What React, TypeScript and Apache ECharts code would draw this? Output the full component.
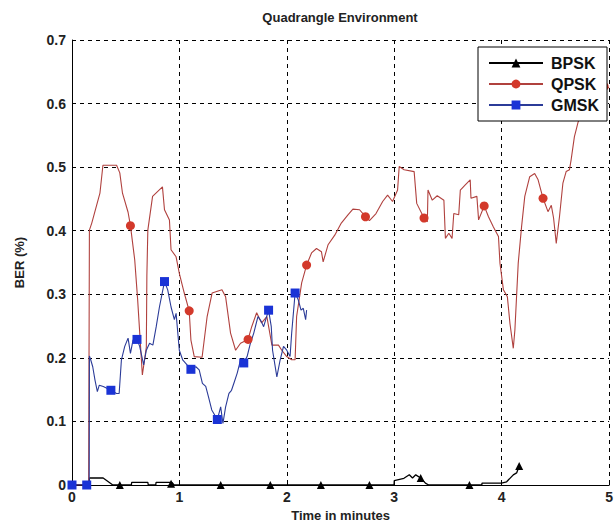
import React, { useEffect, useRef } from "react";
import * as echarts from "echarts";

const chartTitle = "Quadrangle Environment";
const xName = "Time in minutes";
const yName = "BER (%)";
const seriesNames = ["BPSK", "QPSK", "GMSK"];

const bpsk: [number, number][] = [
  [0, 0], [0.16, 0], [0.162, 0.011], [0.29, 0.011], [0.38, 0.0], [0.445, 0.0],
  [0.553, 0.0], [0.555, 0.004], [0.706, 0.004], [0.71, 0.0], [0.78, 0.0], [0.782, 0.004],
  [0.93, 0.004], [0.95, 0.0], [1.384, 0], [1.846, 0], [2.317, 0], [2.769, 0],
  [2.998, 0], [3.0, 0.007], [3.09, 0.0105], [3.14, 0.016], [3.17, 0.011], [3.2, 0.016],
  [3.246, 0.011], [3.29, 0.003], [3.32, 0], [3.70, 0], [3.815, 0], [3.817, 0.003],
  [3.998, 0.003], [4.046, 0.005], [4.108, 0.016], [4.139, 0.019], [4.163, 0.03],
];
const bpskMarks: [number, number][] = [
  [0.445, 0], [0.922, 0.002], [1.384, 0], [1.846, 0], [2.317, 0], [2.769, 0],
  [3.246, 0.011], [3.70, 0], [4.163, 0.03],
];

const qpsk: [number, number][] = [
  [0, 0], [0.155, 0], [0.162, 0.401], [0.184, 0.412], [0.26, 0.459], [0.288, 0.503],
  [0.415, 0.503], [0.445, 0.491], [0.47, 0.459], [0.522, 0.429], [0.544, 0.408],
  [0.584, 0.354], [0.611, 0.292], [0.655, 0.173], [0.692, 0.217], [0.697, 0.33],
  [0.706, 0.401], [0.75, 0.454], [0.842, 0.469], [0.861, 0.433], [0.907, 0.417],
  [0.922, 0.37], [0.969, 0.359], [0.999, 0.333], [1.045, 0.302], [1.091, 0.274],
  [1.107, 0.228], [1.138, 0.202], [1.211, 0.201], [1.258, 0.265], [1.304, 0.302],
  [1.396, 0.307], [1.43, 0.296], [1.476, 0.239], [1.523, 0.212], [1.569, 0.223],
  [1.639, 0.229], [1.673, 0.249], [1.719, 0.271], [1.765, 0.255], [1.814, 0.265],
  [1.861, 0.22], [1.922, 0.22], [1.953, 0.212], [1.999, 0.202], [2.045, 0.197],
  [2.077, 0.197], [2.091, 0.265], [2.138, 0.318], [2.184, 0.346], [2.23, 0.365],
  [2.276, 0.372], [2.322, 0.367], [2.338, 0.351], [2.384, 0.378], [2.446, 0.393],
  [2.507, 0.412], [2.569, 0.425], [2.615, 0.434], [2.677, 0.433], [2.732, 0.422],
  [2.769, 0.416], [2.83, 0.427], [2.892, 0.446], [2.938, 0.456], [2.984, 0.446],
  [3.031, 0.464], [3.046, 0.501], [3.092, 0.496], [3.185, 0.493], [3.209, 0.443],
  [3.277, 0.42], [3.308, 0.414], [3.314, 0.464], [3.354, 0.448], [3.4, 0.455],
  [3.462, 0.448], [3.476, 0.388], [3.508, 0.396], [3.538, 0.388], [3.554, 0.427],
  [3.6, 0.425], [3.615, 0.464], [3.661, 0.472], [3.707, 0.48], [3.714, 0.451],
  [3.769, 0.454], [3.785, 0.417], [3.837, 0.439], [3.877, 0.422], [3.923, 0.406],
  [3.97, 0.391], [3.984, 0.349], [4.016, 0.307], [4.053, 0.296], [4.077, 0.254],
  [4.108, 0.215], [4.123, 0.244], [4.154, 0.349], [4.185, 0.406], [4.215, 0.454],
  [4.261, 0.485], [4.307, 0.49], [4.339, 0.48], [4.385, 0.451], [4.431, 0.43],
  [4.462, 0.44], [4.483, 0.42], [4.508, 0.38], [4.538, 0.422], [4.57, 0.475],
  [4.6, 0.493], [4.631, 0.496], [4.646, 0.511], [4.677, 0.548], [4.692, 0.558],
  [4.71, 0.57], [4.75, 0.59], [4.82, 0.61], [4.9, 0.62], [4.954, 0.627], [5.0, 0.625],
];
const qpskMarks: [number, number][] = [
  [0.544, 0.408], [1.091, 0.274], [1.639, 0.229], [2.184, 0.346], [2.732, 0.422],
  [3.277, 0.42], [3.837, 0.439], [4.385, 0.451], [4.954, 0.627],
];

const gmsk: [number, number][] = [
  [0, 0], [0.137, 0], [0.16, 0], [0.162, 0.203], [0.174, 0.197], [0.193, 0.186],
  [0.214, 0.165], [0.236, 0.147], [0.254, 0.157], [0.291, 0.155], [0.362, 0.149],
  [0.414, 0.144], [0.439, 0.144], [0.46, 0.197], [0.491, 0.218], [0.522, 0.231],
  [0.544, 0.207], [0.568, 0.228], [0.605, 0.229], [0.63, 0.218], [0.667, 0.189],
  [0.692, 0.212], [0.722, 0.223], [0.753, 0.22], [0.784, 0.249], [0.814, 0.28],
  [0.861, 0.32], [0.891, 0.307], [0.922, 0.28], [0.953, 0.26], [0.969, 0.27],
  [0.999, 0.212], [1.03, 0.197], [1.061, 0.191], [1.107, 0.182], [1.153, 0.186],
  [1.184, 0.181], [1.214, 0.16], [1.245, 0.155], [1.27, 0.139], [1.301, 0.118],
  [1.353, 0.103], [1.384, 0.123], [1.405, 0.097], [1.43, 0.123], [1.461, 0.144],
  [1.485, 0.149], [1.507, 0.16], [1.538, 0.176], [1.569, 0.197], [1.599, 0.192],
  [1.63, 0.202], [1.661, 0.223], [1.692, 0.239], [1.731, 0.265], [1.763, 0.257],
  [1.784, 0.249], [1.83, 0.275], [1.855, 0.249], [1.867, 0.212], [1.907, 0.17],
  [1.938, 0.197], [1.969, 0.218], [1.999, 0.212], [2.03, 0.202], [2.045, 0.239],
  [2.077, 0.302], [2.107, 0.291], [2.132, 0.275], [2.153, 0.278], [2.175, 0.26],
  [2.184, 0.275],
];
const gmskMarks: [number, number][] = [
  [0, 0], [0.137, 0], [0.362, 0.149], [0.605, 0.229], [0.861, 0.32], [1.107, 0.182],
  [1.353, 0.103], [1.599, 0.192], [1.83, 0.275], [2.077, 0.302],
];

const FONT = "Arial, 'Liberation Sans', sans-serif";

export default function App() {
  const ref = useRef<HTMLDivElement>(null);
  useEffect(() => {
    if (!ref.current) return;
    const chart = echarts.init(ref.current, null, { renderer: "svg" });
    const lineColors = ["#000000", "#b0413e", "#2b3b98"];
    const markColors = ["#000000", "#d3392b", "#1a33d6"];
    const symbols = ["triangle", "circle", "rect"];
    const sizes = [8, 9, 9];
    const lines = [bpsk, qpsk, gmsk];
    const marks = [bpskMarks, qpskMarks, gmskMarks];
    const series: any[] = [];
    for (let i = 0; i < 3; i++) {
      series.push({
        name: seriesNames[i],
        type: "line",
        data: lines[i],
        showSymbol: false,
        symbol: symbols[i],
        symbolSize: sizes[i],
        itemStyle: { color: markColors[i] },
        lineStyle: { color: lineColors[i], width: i === 0 ? 1.3 : 1.1 },
        z: 2 + i,
      });
      series.push({
        name: seriesNames[i] + "_m",
        type: "scatter",
        data: marks[i],
        symbol: symbols[i],
        symbolSize: sizes[i],
        itemStyle: { color: markColors[i], opacity: 1 },
        z: 3 + i,
      });
    }
    chart.setOption({
      animation: false,
      backgroundColor: "#ffffff",
      grid: { left: 72, right: 3, top: 40, bottom: 42 },
      xAxis: {
        type: "value",
        min: 0,
        max: 5,
        interval: 1,
        name: xName,
        nameLocation: "middle",
        nameGap: 22,
        nameTextStyle: { fontFamily: FONT, fontWeight: "bold", fontSize: 13, color: "#222" },
        axisLine: { show: true, lineStyle: { color: "#000", width: 1 } },
        axisTick: { show: true, inside: true, length: 4, lineStyle: { color: "#000" } },
        axisLabel: { fontFamily: FONT, fontWeight: "bold", fontSize: 14, color: "#222", margin: 5 },
        splitLine: { show: true, lineStyle: { color: "#000", type: [4, 4], width: 1 } },
      },
      yAxis: {
        type: "value",
        min: 0,
        max: 0.7,
        interval: 0.1,
        name: yName,
        nameLocation: "middle",
        nameGap: 46,
        nameTextStyle: { fontFamily: FONT, fontWeight: "bold", fontSize: 13, color: "#222" },
        axisLine: { show: true, lineStyle: { color: "#000", width: 1 } },
        axisTick: { show: true, inside: true, length: 4, lineStyle: { color: "#000" } },
        axisLabel: {
          fontFamily: FONT,
          fontWeight: "bold",
          fontSize: 14,
          color: "#222",
          margin: 6,
          formatter: (v: number) => (v === 0 ? "0" : v.toFixed(1)),
        },
        splitLine: { show: true, lineStyle: { color: "#000", type: [4, 4], width: 1 } },
      },
      legend: {
        data: seriesNames,
        orient: "vertical",
        right: 9,
        top: 47,
        padding: [8, 8, 8, 10],
        itemGap: 5,
        itemWidth: 54,
        itemHeight: 11,
        backgroundColor: "#ffffff",
        borderColor: "#000",
        borderWidth: 1,
        borderRadius: 0,
        textStyle: {
          fontFamily: FONT,
          fontWeight: "bold",
          fontSize: 16,
          color: "#111",
          padding: [0, 0, 0, 3],
        },
        z: 10,
      },
      graphic: [
        {
          type: "text",
          x: 340,
          y: 17,
          style: {
            text: chartTitle,
            fontFamily: FONT,
            fontWeight: "bold",
            fontSize: 13,
            fill: "#222",
            textAlign: "center",
            textVerticalAlign: "middle",
          },
        },
      ],
      series,
    });
    return () => chart.dispose();
  }, []);
  return (
    <div
      ref={ref}
      style={{ position: "fixed", left: 0, top: 0, width: 616, height: 527, background: "#fff" }}
    />
  );
}
